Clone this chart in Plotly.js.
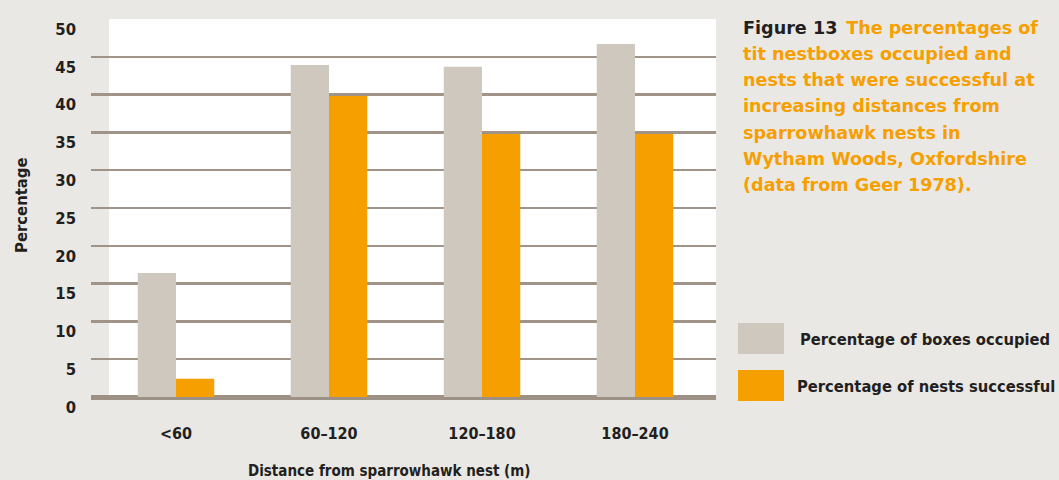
<!DOCTYPE html>
<html>
<head>
<meta charset="utf-8">
<script src="https://cdn.plot.ly/plotly-3.0.1.min.js"></script>
<style>
  html, body { margin: 0; padding: 0; background: #eae8e4; }
  #chart { width: 1059px; height: 480px; }
</style>
</head>
<body>
<div id="chart"></div>
<script>
// ---- Data ----
var categories = ['<60', '60–120', '120–180', '180–240'];
var boxesOccupied = [16.4, 43.9, 43.7, 46.7];
var nestsSuccessful = [2.4, 39.8, 34.8, 34.8];
var seriesNames = ['Percentage of boxes occupied', 'Percentage of nests successful'];
var yTicks = [0, 5, 10, 15, 20, 25, 30, 35, 40, 45, 50];
var captionLead = 'Figure 13';
var captionLines = [
  'The percentages of',
  'tit nestboxes occupied and',
  'nests that were successful at',
  'increasing distances from',
  'sparrowhawk nests in',
  'Wytham Woods, Oxfordshire',
  '(data from Geer 1978).'
];
var xTitle = 'Distance from sparrowhawk nest (m)';
var yTitle = 'Percentage';

// ---- Styling / layout helpers ----
var W = 1059, H = 480;
var L = 91, R = 716, T = 18, B = 398;
var pw = R - L, ph = B - T;
function px(x) { return (x - L) / pw; }
function py(y) { return (B - y) / ph; }

var narrow = '"Liberation Sans Narrow", "Arial Narrow", "DejaVu Sans Condensed", sans-serif';
var wide = '"DejaVu Sans", Verdana, sans-serif';
var dark = '#231f20';
var grey = '#cfc8bf';
var orange = '#f59f00';
var gridC = '#a09489';

var catIdx = categories.map(function (c, i) { return i; });

var traces = [
  { type: 'bar', x: catIdx, y: boxesOccupied, name: seriesNames[0],
    marker: { color: grey, line: { width: 0 } }, showlegend: false, hoverinfo: 'skip' },
  { type: 'bar', x: catIdx, y: nestsSuccessful, name: seriesNames[1],
    marker: { color: orange, line: { width: 0 } }, showlegend: false, hoverinfo: 'skip' }
];

// x range so that category centres sit at 176, 329, 482, 635 px
var step = 153;
var r0 = -(176 - L) / step;
var r1 = r0 + pw / step;

var annotations = [];
// caption
var capX = px(741);
var capY0 = 27.5, capStep = 26.3;
var capFont = { family: wide, size: 17.6, weight: 700, color: orange };
annotations.push({
  xref: 'paper', yref: 'paper', x: capX, y: py(capY0), xanchor: 'left', yanchor: 'middle',
  showarrow: false, align: 'left',
  text: '<span style="color:' + dark + '">' + captionLead + '</span>\u2002' +
        '<span style="color:' + orange + '">' + captionLines[0] + '</span>',
  font: capFont
});
for (var i = 1; i < captionLines.length; i++) {
  annotations.push({
    xref: 'paper', yref: 'paper', x: capX, y: py(capY0 + capStep * i), xanchor: 'left', yanchor: 'middle',
    showarrow: false, align: 'left', text: captionLines[i], font: capFont
  });
}
// legend texts
annotations.push({
  xref: 'paper', yref: 'paper', x: px(798), y: py(339), xanchor: 'left', yanchor: 'middle',
  showarrow: false, text: seriesNames[0], font: { family: narrow, size: 16.4, weight: 700, color: dark }
});
annotations.push({
  xref: 'paper', yref: 'paper', x: px(795), y: py(386), xanchor: 'left', yanchor: 'middle',
  showarrow: false, text: seriesNames[1], font: { family: narrow, size: 16.4, weight: 700, color: dark }
});
// axis titles
annotations.push({
  xref: 'paper', yref: 'paper', x: px(389), y: py(471), xanchor: 'center', yanchor: 'middle',
  showarrow: false, text: xTitle, font: { family: narrow, size: 15, weight: 700, color: dark }
});
annotations.push({
  xref: 'paper', yref: 'paper', x: px(21), y: py(205), xanchor: 'center', yanchor: 'middle',
  showarrow: false, textangle: -90, text: yTitle, font: { family: narrow, size: 16.5, weight: 700, color: dark }
});

var shapes = [
  // white plotting panel
  { type: 'rect', xref: 'paper', yref: 'paper', x0: px(109), x1: 1, y0: 0, y1: py(19),
    fillcolor: '#ffffff', line: { width: 0 }, layer: 'below' },
  // legend swatches
  { type: 'rect', xref: 'paper', yref: 'paper', x0: px(738), x1: px(784), y0: py(354), y1: py(323),
    fillcolor: grey, line: { width: 0 } },
  { type: 'rect', xref: 'paper', yref: 'paper', x0: px(738), x1: px(784), y0: py(401), y1: py(370),
    fillcolor: orange, line: { width: 0 } }
];

// y range: 0 at 397px, 50 at 19px
var yPerPx = 50 / (397 - 19);
var yr0 = -(B - 397) * yPerPx;
var yr1 = 50 + (19 - T) * yPerPx;

var layout = {
  width: W, height: H,
  margin: { l: L, r: W - R, t: T, b: H - B, pad: 0 },
  paper_bgcolor: '#eae8e4',
  plot_bgcolor: 'rgba(0,0,0,0)',
  barmode: 'group',
  bargap: 0.5,
  bargroupgap: 0,
  xaxis: {
    range: [r0, r1], tickmode: 'array', tickvals: catIdx, ticktext: categories,
    showgrid: false, zeroline: false, showline: false, ticks: '',
    ticklabelstandoff: 24,
    tickfont: { family: narrow, size: 16, weight: 700, color: dark },
    fixedrange: true
  },
  yaxis: {
    range: [yr0, yr1], tickmode: 'array', tickvals: yTicks,
    showgrid: true, gridcolor: gridC, gridwidth: 2.5,
    zeroline: true, zerolinecolor: '#9d9085', zerolinewidth: 5,
    showline: false, ticks: '',
    ticklabelstandoff: 14, ticklabelshift: 10,
    tickfont: { family: narrow, size: 16.5, weight: 700, color: dark },
    fixedrange: true
  },
  shapes: shapes,
  annotations: annotations,
  showlegend: false
};

Plotly.newPlot('chart', traces, layout, { displayModeBar: false, staticPlot: true });
</script>
</body>
</html>
